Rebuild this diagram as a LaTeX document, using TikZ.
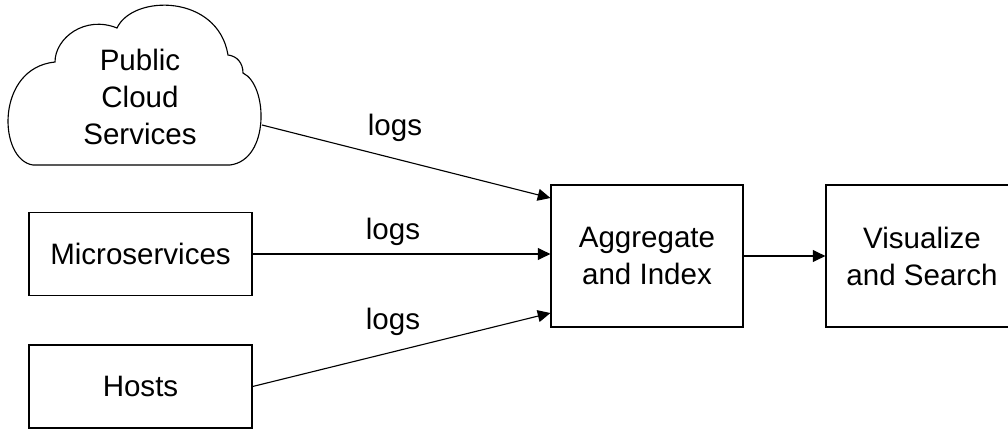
\documentclass[tikz,border=0pt]{standalone}
\usepackage{fontspec}
\setmainfont{Liberation Sans}
\usetikzlibrary{arrows.meta,positioning,calc}

\begin{document}
\begin{tikzpicture}[
  x=0.025cm, y=-0.025cm,
  font=\fontsize{21}{26.3}\selectfont,
  box/.style={draw, line width=0.8pt, minimum width=5.575cm, minimum height=2.075cm, align=center, inner sep=0pt},
  stage/.style={box, minimum width=4.8cm, minimum height=3.55cm},
  lbl/.style={inner sep=0pt},
  arr/.style={-{Triangle[length=9pt,width=8.5pt]}, line width=0.8pt}
]
\useasboundingbox (0,0) rectangle (1008,429);
\clip (0,0) rectangle (1008,429);

% cloud outline
\draw[line width=0.8pt] (33,165) .. controls (-2,160) and (-5,68) .. (55,62)
  .. controls (55,38) and (85,15) .. (117,28)
  .. controls (133,-6) and (218,-6) .. (228,55)
  .. controls (237,56) and (243,63) .. (243,73)
  .. controls (268,85) and (270,160) .. (230,165) -- cycle;
\node[align=center] (cloud) at (140,97) {Public\\Cloud\\Services};
\coordinate (cloudout) at (262,125);

\node[box] (micro) at (140.5,254) {Microservices};
\node[box] (hosts) at (140.5,386.5) {Hosts};
\node[stage] (agg) at (647,256) {Aggregate\\and Index};
\node[stage] (vis) at (922,256) {Visualize\\and Search};

\draw[arr] (cloudout) -- ([yshift=1.45cm]agg.west);
\draw[arr] (micro.east) -- (micro.east -| agg.west);
\draw[arr] (hosts.east) -- ([yshift=-1.425cm]agg.west);
\draw[arr] (agg) -- (vis);

\node[lbl] (log1) at (395,128) {logs};
\node[lbl] (log2) at (393,232) {logs};
\node[lbl] (log3) at (393,322) {logs};
\end{tikzpicture}
\end{document}
